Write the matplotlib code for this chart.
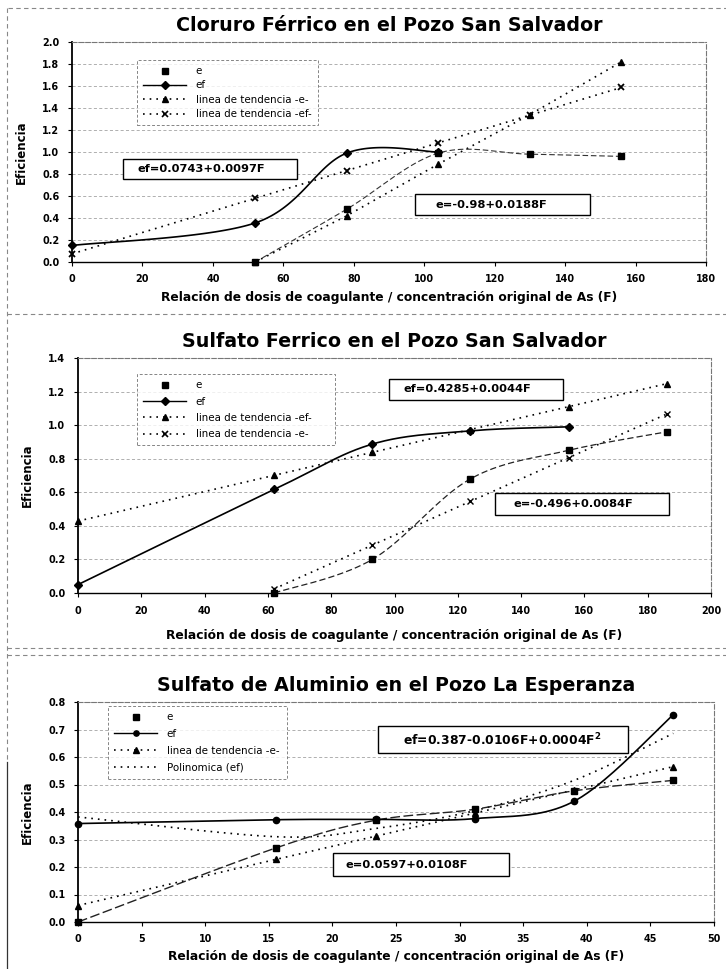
import numpy as np
import matplotlib
matplotlib.use("Agg")
import matplotlib.pyplot as plt
from matplotlib.lines import Line2D
from matplotlib.patches import Rectangle

plt.rcParams['font.family'] = ['DejaVu Sans']

# ---------------- data ----------------
# Cloruro Férrico, Pozo San Salvador
cf_F_e = [52, 78, 104, 130, 156]
cf_e = [0.0, 0.48, 0.99, 0.98, 0.96]
cf_F_ef = [0, 52, 78, 104]
cf_ef = [0.15, 0.355, 0.99, 1.0]
cf_F_trend_e = [52, 78, 104, 130, 156]
cf_trend_e = [0.0, 0.42, 0.89, 1.34, 1.82]
cf_F_trend_ef = [0, 52, 78, 104, 130, 156]
cf_trend_ef = [0.074, 0.579, 0.831, 1.083, 1.335, 1.587]

# Sulfato Ferrico, Pozo San Salvador
sf_F_e = [62, 93, 124, 155, 186]
sf_e = [0.0, 0.20, 0.68, 0.85, 0.96]
sf_F_ef = [0, 62, 93, 124, 155]
sf_ef = [0.05, 0.617, 0.887, 0.966, 0.99]
sf_F_trend_ef = [0, 62, 93, 124, 155, 186]
sf_trend_ef = [0.4285, 0.701, 0.838, 0.974, 1.11, 1.247]
sf_F_trend_e = [62, 93, 124, 155, 186]
sf_trend_e = [0.025, 0.285, 0.546, 0.806, 1.066]

# Sulfato de Aluminio, Pozo La Esperanza
sa_F = [0, 15.6, 23.4, 31.2, 39.0, 46.8]
sa_e = [0.0, 0.27, 0.37, 0.41, 0.477, 0.515]
sa_ef = [0.358, 0.372, 0.373, 0.376, 0.439, 0.754]
sa_trend_e = [0.06, 0.228, 0.312, 0.396, 0.48, 0.565]
sa_poly_ef = [0.382, 0.31, 0.34, 0.405, 0.515, 0.686]

XLABEL = "Relación de dosis de coagulante / concentración original de As (F)"
YLABEL = "Eficiencia"

W, H = 726, 969
fig = plt.figure(figsize=(W / 100, H / 100), dpi=100)


def px_axes(left, top, right, bottom):
    return fig.add_axes([left / W, 1 - bottom / H, (right - left) / W, (bottom - top) / H])


def smooth(x, y, n=40):
    """Excel-style smoothed line (Catmull-Rom segments as cubic Beziers)."""
    pts = np.column_stack([x, y]).astype(float)
    out = [pts[:1]]
    m = len(pts)
    t = np.linspace(0, 1, n)[1:, None]
    for i in range(m - 1):
        p0 = pts[i - 1] if i > 0 else pts[i]
        p1, p2 = pts[i], pts[i + 1]
        p3 = pts[i + 2] if i + 2 < m else pts[i + 1]
        c1 = p1 + (p2 - p0) / 6
        c2 = p2 - (p3 - p1) / 6
        seg = ((1 - t) ** 3) * p1 + 3 * ((1 - t) ** 2) * t * c1 + 3 * (1 - t) * t ** 2 * c2 + t ** 3 * p2
        out.append(seg)
    c = np.vstack(out)
    return c[:, 0], c[:, 1]


DOT = (0, (1, 3))


def style_axes(ax, xmax, xstep, ymax, ystep, xpad):
    ax.set_xlim(0, xmax)
    ax.set_ylim(0, ymax)
    ax.set_xticks(np.arange(0, xmax + xstep / 2, xstep))
    ax.set_yticks(np.arange(0, ymax + ystep / 2, ystep))
    ax.yaxis.set_major_formatter(matplotlib.ticker.FormatStrFormatter('%.1f'))
    ax.xaxis.set_major_formatter(matplotlib.ticker.FormatStrFormatter('%d'))
    ax.tick_params(axis='both', labelsize=6.9, length=3, width=0.8, direction='out', pad=6)
    for lab in ax.get_xticklabels() + ax.get_yticklabels():
        lab.set_fontweight('bold')
    ax.grid(axis='y', color='#9a9a9a', linestyle=(0, (4, 3)), linewidth=0.55)
    ax.set_axisbelow(True)
    for s in ('top', 'right'):
        ax.spines[s].set_color('#777777')
        ax.spines[s].set_linestyle((0, (4, 2)))
        ax.spines[s].set_linewidth(0.8)
    ax.spines['left'].set_linewidth(1.3)
    ax.spines['bottom'].set_linewidth(1.0)
    ax.set_xlabel(XLABEL, fontsize=8.8, fontweight='bold', labelpad=xpad)
    ax.set_ylabel(YLABEL, fontsize=8.5, fontweight='bold', labelpad=10,
                  family=['Liberation Sans Narrow', 'DejaVu Sans'])


def legend(ax, handles, labels, x0, y0, width, spacing):
    lg = ax.legend(handles, labels, loc='upper left', bbox_to_anchor=(x0, y0, width, 0.0),
                   bbox_transform=fig.transFigure, mode='expand', fontsize=7.4, frameon=True,
                   fancybox=False, borderaxespad=0, handlelength=4.2,
                   labelspacing=spacing, borderpad=0.6, handletextpad=0.9)
    fr = lg.get_frame()
    fr.set_edgecolor('#666666')
    fr.set_linestyle((0, (3, 2)))
    fr.set_linewidth(0.7)
    return lg


def eq_box(text, left, top, right, bottom, tx, size=8.2):
    fig.add_artist(Rectangle((left / W, 1 - bottom / H), (right - left) / W, (bottom - top) / H,
                             transform=fig.transFigure, facecolor='white', edgecolor='black',
                             linewidth=1.0, zorder=5))
    fig.text(tx / W, 1 - (top + bottom) / 2 / H, text, fontsize=size, fontweight='bold',
             va='center', ha='left', zorder=6)


def h_sq():
    return Line2D([], [], linestyle='none', marker='s', color='black', markersize=4.5)


def h_ef(marker='D'):
    return Line2D([], [], linestyle='-', marker=marker, color='black', markersize=3.8, linewidth=1.0)


def h_tri():
    return Line2D([], [], linestyle=DOT, marker='^', color='black', markersize=4, linewidth=1.2)


def h_x():
    return Line2D([], [], linestyle=DOT, marker='x', color='black', markersize=4,
                  linewidth=1.2, markeredgewidth=1.2)


def h_dot():
    return Line2D([], [], linestyle=DOT, color='black', linewidth=1.2)


E_DASH = (0, (5, 2.5))

# ---------------- chart 1 ----------------
ax1 = px_axes(72, 42, 706, 262)
style_axes(ax1, 180, 20, 2.0, 0.2, 5)
ax1.set_title("Cloruro Férrico en el Pozo San Salvador", fontsize=13.7, fontweight='bold', pad=8)
ax1.plot(cf_F_trend_ef, cf_trend_ef, linestyle=DOT, color='black', lw=1.2, marker='x',
         ms=4.5, mew=1.3, clip_on=False, zorder=3)
ax1.plot(cf_F_trend_e, cf_trend_e, linestyle=DOT, color='black', lw=1.2, marker='^',
         ms=4.5, clip_on=False, zorder=3)
sx, sy = smooth(cf_F_e, cf_e)
ax1.plot(sx, sy, linestyle=E_DASH, color='#333333', lw=0.8, zorder=3)
ax1.plot(cf_F_e, cf_e, linestyle='none', marker='s', color='black', ms=5, clip_on=False, zorder=4)
sx, sy = smooth(cf_F_ef, cf_ef)
ax1.plot(sx, sy, color='black', lw=1.2, zorder=3, clip_on=False)
ax1.plot(cf_F_ef, cf_ef, linestyle='none', marker='D', color='black', ms=4, clip_on=False, zorder=4)
legend(ax1, [h_sq(), h_ef(), h_tri(), h_x()],
       ["e", "ef", "linea de tendencia -e-", "linea de tendencia -ef-"],
       137 / W, 1 - 60 / H, 181 / W, 0.42)
eq_box("ef=0.0743+0.0097F", 123, 159, 297, 179, 137)
eq_box("e=-0.98+0.0188F", 415, 194, 590, 215, 436)

# ---------------- chart 2 ----------------
ax2 = px_axes(78, 358, 711, 593)
style_axes(ax2, 200, 20, 1.4, 0.2, 10)
ax2.set_title("Sulfato Ferrico en el Pozo San Salvador", fontsize=13.7, fontweight='bold', pad=8)
ax2.plot(sf_F_trend_ef, sf_trend_ef, linestyle=DOT, color='black', lw=1.2, marker='^',
         ms=4.5, clip_on=False, zorder=3)
ax2.plot(sf_F_trend_e, sf_trend_e, linestyle=DOT, color='black', lw=1.2, marker='x',
         ms=4, mew=1.0, clip_on=False, zorder=3)
sx, sy = smooth(sf_F_e, sf_e)
ax2.plot(sx, sy, linestyle=E_DASH, color='#222222', lw=0.9, zorder=3)
ax2.plot(sf_F_e, sf_e, linestyle='none', marker='s', color='black', ms=5, clip_on=False, zorder=4)
sx, sy = smooth(sf_F_ef, sf_ef)
ax2.plot(sx, sy, color='black', lw=1.2, zorder=3)
ax2.plot(sf_F_ef, sf_ef, linestyle='none', marker='D', color='black', ms=4, clip_on=False, zorder=4)
legend(ax2, [h_sq(), h_ef(), h_tri(), h_x()],
       ["e", "ef", "linea de tendencia -ef-", "linea de tendencia -e-"],
       137 / W, 1 - 374 / H, 198 / W, 0.62)
eq_box("ef=0.4285+0.0044F", 389, 379, 563, 400, 403)
eq_box("e=-0.496+0.0084F", 495, 493, 669, 515, 514)

# ---------------- chart 3 ----------------
ax3 = px_axes(78, 702, 714, 922)
style_axes(ax3, 50, 5, 0.8, 0.1, 4)
ax3.set_title("Sulfato de Aluminio en el Pozo La Esperanza", fontsize=13.7, fontweight='bold', pad=8)
sx, sy = smooth(sa_F, sa_poly_ef)
ax3.plot(sx, sy, linestyle=DOT, color='black', lw=1.2, zorder=3)
ax3.plot(sa_F, sa_trend_e, linestyle=DOT, color='black', lw=1.2, marker='^', ms=4.5,
         clip_on=False, zorder=3)
sx, sy = smooth(sa_F, sa_e)
ax3.plot(sx, sy, linestyle=(0, (7, 2.5)), color='#222222', lw=1.0, zorder=3)
ax3.plot(sa_F, sa_e, linestyle='none', marker='s', color='black', ms=5, clip_on=False, zorder=4)
sx, sy = smooth(sa_F, sa_ef)
ax3.plot(sx, sy, color='black', lw=1.2, zorder=3)
ax3.plot(sa_F, sa_ef, linestyle='none', marker='o', color='black', ms=4.5, clip_on=False, zorder=4)
legend(ax3, [h_sq(), h_ef('o'), h_tri(), h_dot()],
       ["e", "ef", "linea de tendencia -e-", "Polinomica (ef)"],
       108 / W, 1 - 706 / H, 179 / W, 0.66)
eq_box("ef=0.387-0.0106F+0.0004F$^{\\mathbf{2}}$", 378, 726, 628, 753, 403, size=8.9)
eq_box("e=0.0597+0.0108F", 333, 853, 509, 876, 346)

# ---------------- page frame lines ----------------
frame = dict(color='#888888', linewidth=0.8, linestyle=(0, (4, 3)), transform=fig.transFigure)
fig.add_artist(Line2D([8 / W, 1], [1 - 8 / H, 1 - 8 / H], **frame))
fig.add_artist(Line2D([7 / W, 7 / W], [1 - 8 / H, 1 - 760 / H], **frame))
fig.add_artist(Line2D([7 / W, 1], [1 - 314 / H, 1 - 314 / H], **frame))
fig.add_artist(Line2D([7 / W, 1], [1 - 648 / H, 1 - 648 / H], **frame))
fig.add_artist(Line2D([7 / W, 1], [1 - 655 / H, 1 - 655 / H], **frame))
fig.add_artist(Line2D([7 / W, 7 / W], [1 - 762 / H, 0], color='#333333', linewidth=0.9,
                      transform=fig.transFigure))

fig.savefig("out.png", dpi=100)
